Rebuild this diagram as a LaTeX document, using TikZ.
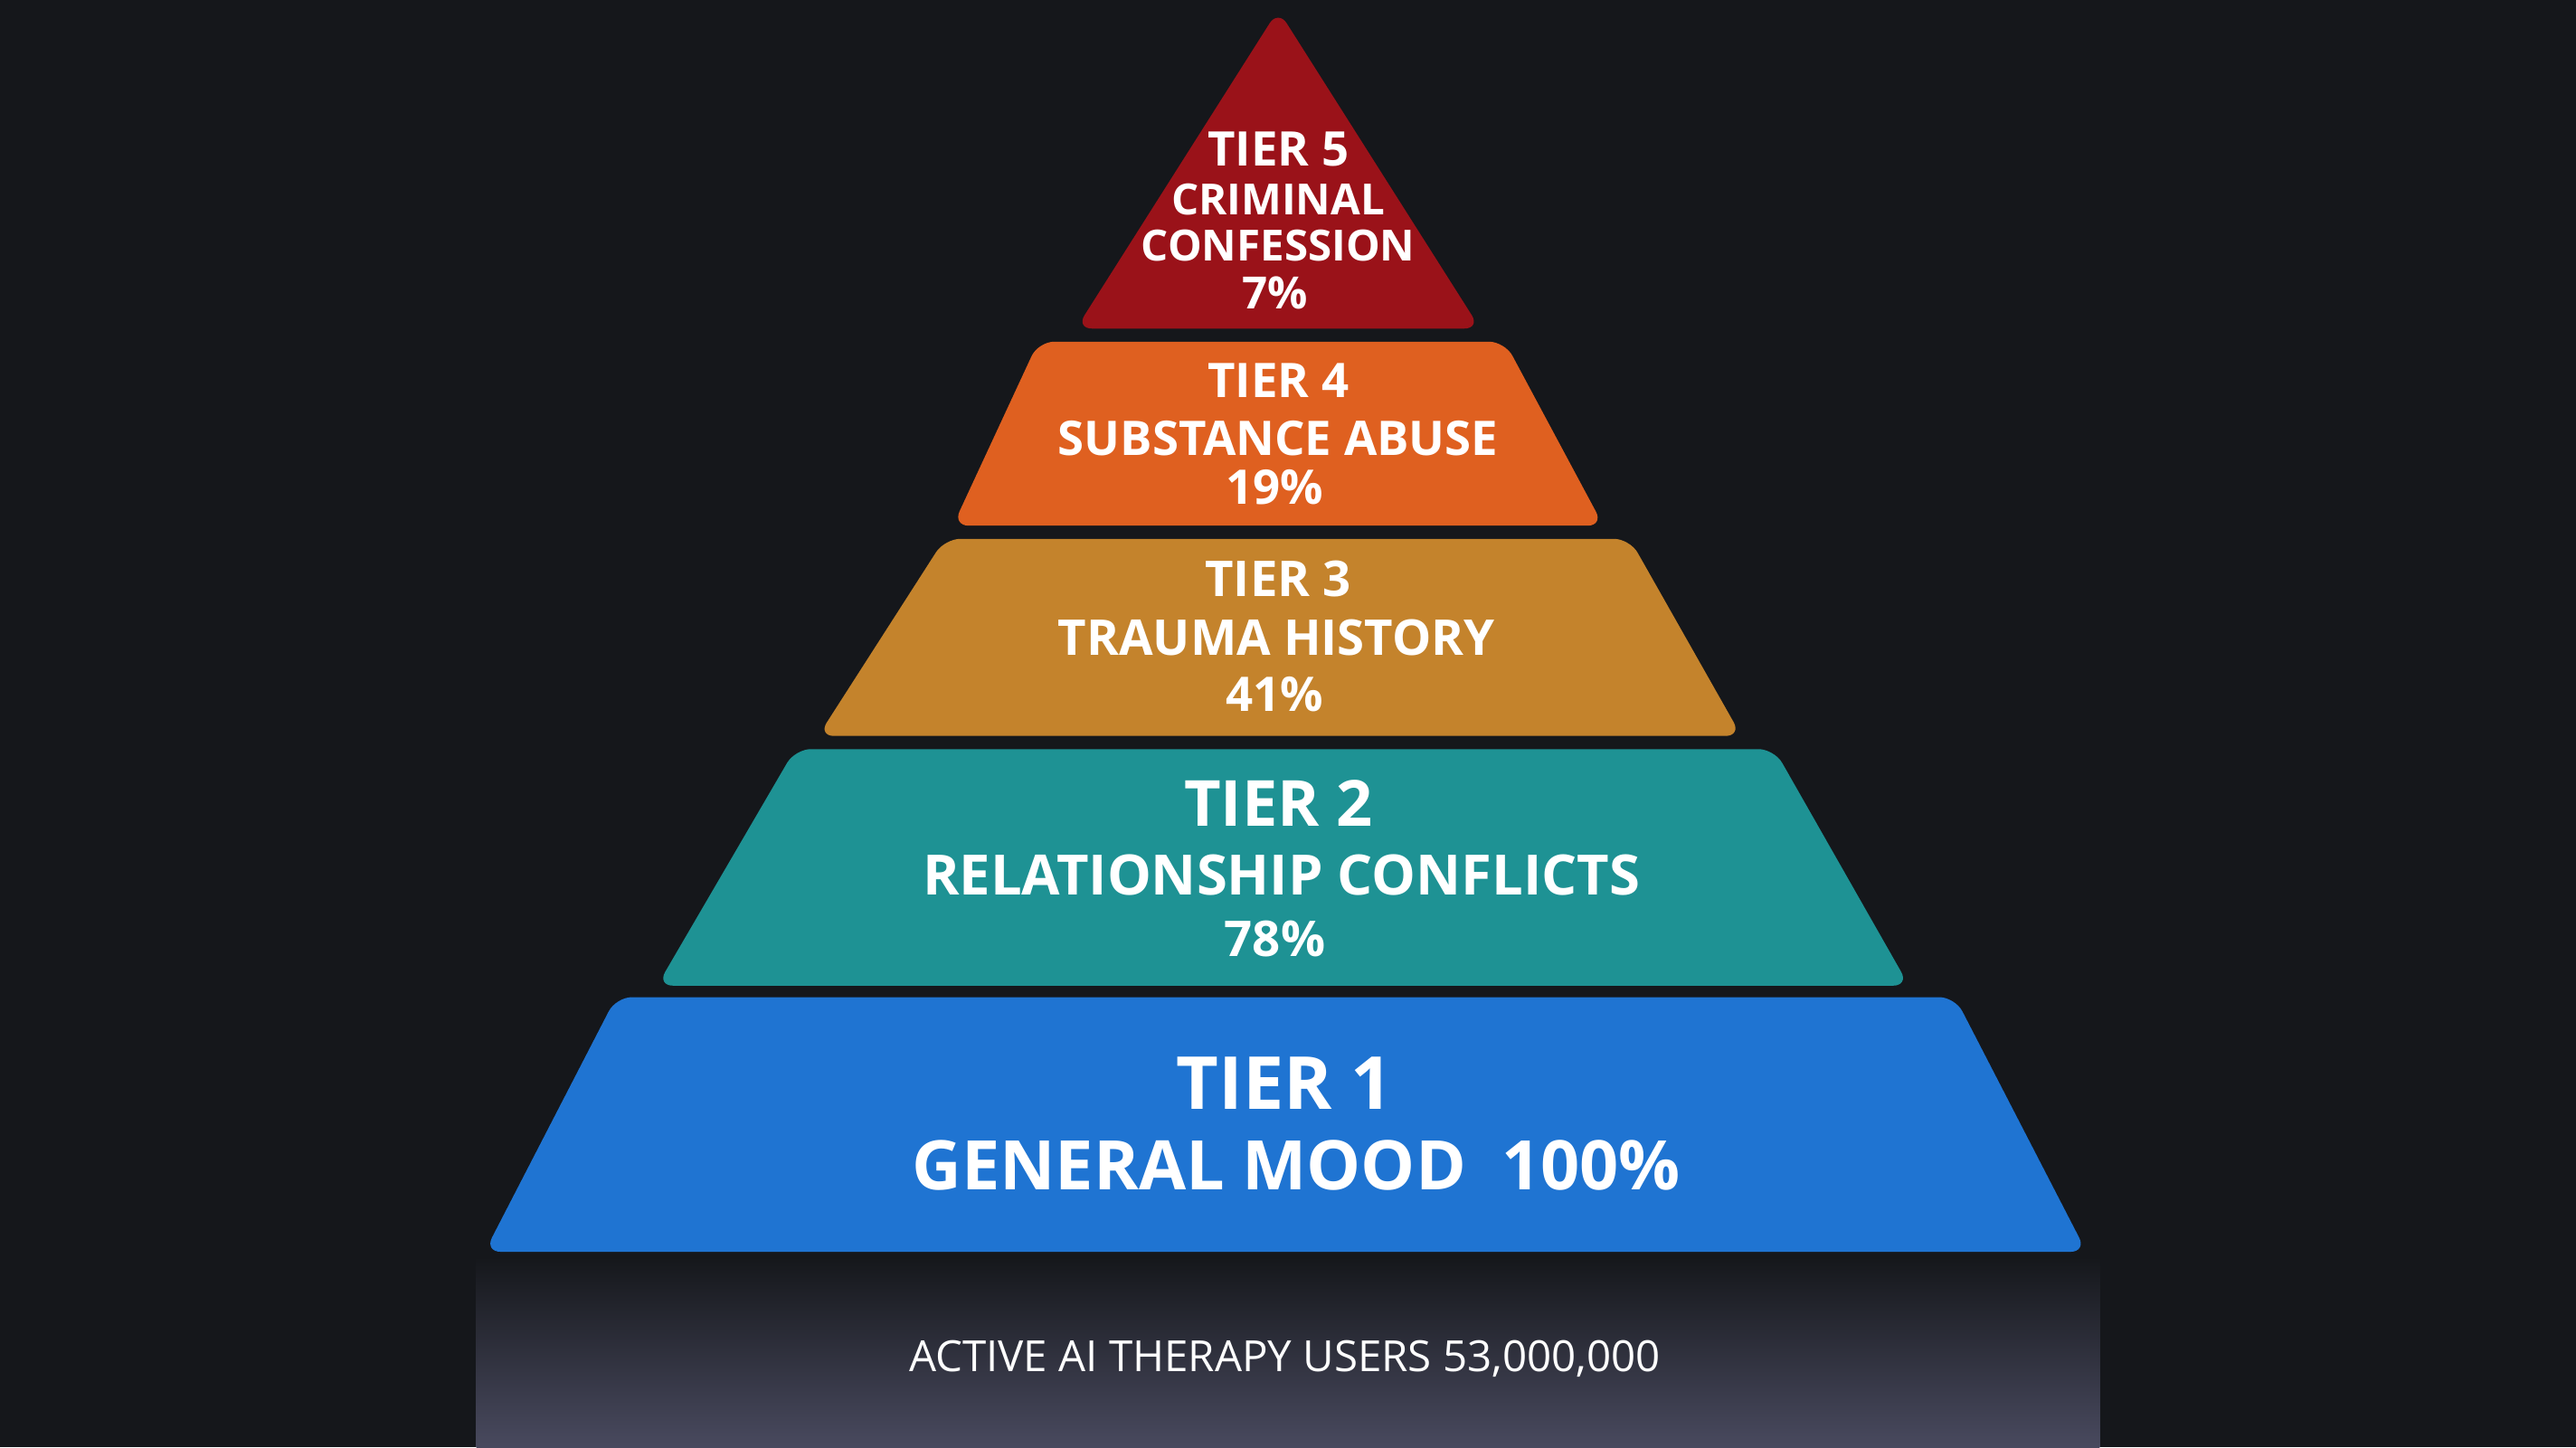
\documentclass[tikz,border=0pt]{standalone}
\usepackage{fontspec}
\setmainfont{Open Sans}
\begin{document}
\begin{tikzpicture}[x=0.01816cm,y=-0.01816cm,
 tier/.style={rounded corners=5pt},
 t/.style={text=white,font=\bfseries,inner sep=0pt,anchor=base}]
\definecolor{bg}{HTML}{15171B}
\definecolor{c5}{HTML}{9A1219}
\definecolor{c4}{HTML}{DF6020}
\definecolor{c3}{HTML}{C4832C}
\definecolor{c2}{HTML}{1E9294}
\definecolor{c1}{HTML}{1F74D2}
\fill[bg] (0,0) rectangle (1568,881);
\useasboundingbox (0,0) rectangle (1568,881);
\fill[top color=bg,bottom color=bg!85!blue!50!gray] (290,765) rectangle (1278,881);
\fill[c5,tier] (778,6) -- (901,200) -- (655,200) -- cycle;
\fill[c4,tier] (632,208) -- (916,208) -- (976,320) -- (580,320) -- cycle;
\fill[c3,tier] (575,328) -- (992,328) -- (1060,448) -- (498,448) -- cycle;
\fill[c2,tier] (484,456) -- (1080,456) -- (1162,600) -- (400,600) -- cycle;
\fill[c1,tier] (375,607) -- (1190,607) -- (1270,762) -- (295,762) -- cycle;
\node[t,font=\bfseries\fontsize{15}{15}\selectfont] (a1) at (778,101) {TIER 5};
\node[t,font=\bfseries\fontsize{13.5}{13.5}\selectfont] (a2) at (778,131) {CRIMINAL};
\node[t,font=\bfseries\fontsize{13.5}{13.5}\selectfont] (a3) at (778,159) {CONFESSION};
\node[t,font=\bfseries\fontsize{14}{14}\selectfont] (a4) at (776,188) {7\%};
\node[t,font=\bfseries\fontsize{15}{15}\selectfont] (b1) at (778,242) {TIER 4};
\node[t,font=\bfseries\fontsize{15}{15}\selectfont] (b2) at (778,277) {SUBSTANCE ABUSE};
\node[t,font=\bfseries\fontsize{15}{15}\selectfont] (b3) at (776,307) {19\%};
\node[t,font=\bfseries\fontsize{15.5}{15.5}\selectfont] (c1n) at (778,363) {TIER 3};
\node[t,font=\bfseries\fontsize{15.5}{15.5}\selectfont] (c2n) at (777,399) {TRAUMA HISTORY};
\node[t,font=\bfseries\fontsize{15}{15}\selectfont] (c3n) at (776,433) {41\%};
\node[t,font=\bfseries\fontsize{20}{20}\selectfont] (d1) at (778,503) {TIER 2};
\node[t,font=\bfseries\fontsize{17.5}{17.5}\selectfont] (d2) at (780,545) {RELATIONSHIP CONFLICTS};
\node[t,font=\bfseries\fontsize{15.5}{15.5}\selectfont] (d3) at (776,582) {78\%};
\node[t,font=\bfseries\fontsize{23}{23}\selectfont] (e1) at (782,675) {TIER 1};
\node[t,font=\bfseries\fontsize{21.5}{21.5}\selectfont] (e2) at (789,724) {GENERAL MOOD\ \ 100\%};
\node[t,font=\fontsize{13.5}{13.5}\selectfont] (f) at (782,835) {ACTIVE AI THERAPY USERS 53,000,000};
\end{tikzpicture}
\end{document}
